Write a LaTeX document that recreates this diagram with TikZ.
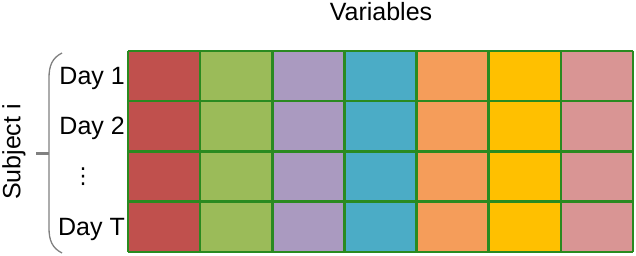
\documentclass[tikz,border=0pt]{standalone}
\usepackage{fontspec}
\setmainfont{Liberation Sans}
\newfontfamily\symfont{DejaVu Sans}
\definecolor{varred}{HTML}{C0504D}
\definecolor{vargreen}{HTML}{9BBB59}
\definecolor{varpurple}{HTML}{AA9AC0}
\definecolor{varteal}{HTML}{4BACC6}
\definecolor{varorange}{HTML}{F59D5A}
\definecolor{vargold}{HTML}{FFC000}
\definecolor{varpink}{HTML}{D99594}
\definecolor{gridgreen}{HTML}{2A8A20}
\begin{document}
\begin{tikzpicture}[x=1pt, y=-1pt, every node/.style={font=\fontsize{25}{30}\selectfont, inner sep=0pt}]
  \useasboundingbox (0,0) rectangle (636,256);
  % cells, one colour per variable
  \foreach \c [count=\i from 0] in {varred,vargreen,varpurple,varteal,varorange,vargold,varpink}
    \fill[\c] (128+72.14*\i,51) rectangle ++(72.14,201);
  \foreach \i in {0,...,7}
    \draw[gridgreen, line width=2.5pt] (128+72.14*\i,51) -- ++(0,201);
  \foreach \j in {0,...,4}
    \draw[gridgreen, line width=2.5pt] (128,51+50.25*\j) -- ++(505,0);
  \node[anchor=base] (vars) at (381,21) {Variables};
  \node[anchor=base east] (day1) at (125,85) {Day 1};
  \node[anchor=base east] (day2) at (125,135) {Day 2};
  \node (dots) at (83,177) {\symfont\fontsize{22}{26}\selectfont ⋮};
  \node[anchor=base east] (dayT) at (125,235.5) {Day T};
  % brace for the subject
  \draw[gray, line width=1.3pt] (62,53) .. controls (52,58) and (49,66) .. (49,78)
    -- (49,228) .. controls (49,240) and (52,248) .. (62,253);
  \draw[gray, line width=3pt] (36,154) -- (49,154);
  \node[rotate=90] (subj) at (14,152) {Subject i};
\end{tikzpicture}
\end{document}
